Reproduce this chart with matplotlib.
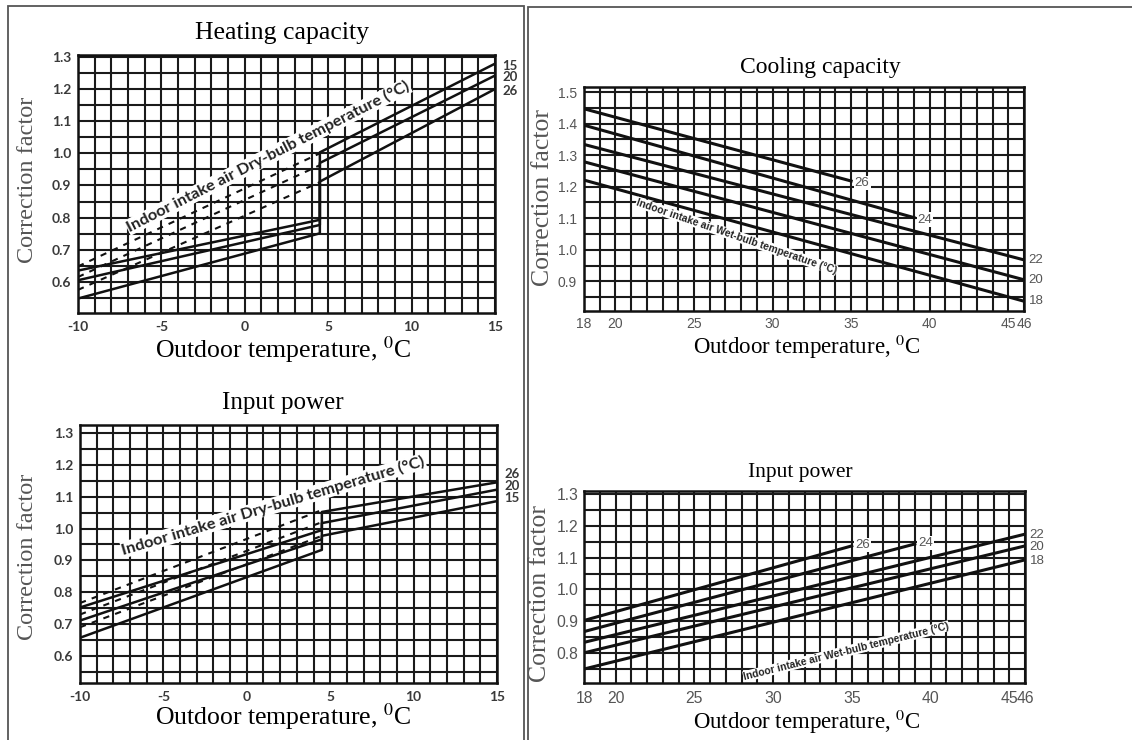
import numpy as np
import matplotlib.pyplot as plt
from matplotlib.patches import Rectangle

plt.rcParams['mathtext.fontset'] = 'stix'
plt.rcParams['axes.unicode_minus'] = False

## Heating capacity (indoor dry-bulb 15 / 20 / 26 C)
heat_names = ['15', '20', '26']
heat_x_solid = [-10, 4.5, 4.5, 15]
heat_solid = {'15': [0.635, 0.793, 1.003, 1.279],
              '20': [0.605, 0.777, 0.970, 1.242],
              '26': [0.548, 0.751, 0.912, 1.200]}
heat_x_dash = [-10, 4.5]
heat_dash = {'15': [0.648, 1.000],
             '20': [0.615, 0.963],
             '26': [0.575, 0.910]}
heat_xticks = [-10, -5, 0, 5, 10, 15]
heat_yticks = [0.6, 0.7, 0.8, 0.9, 1.0, 1.1, 1.2, 1.3]

## Input power, heating
hp_names = ['26', '20', '15']
hp_x_solid = [-10, 4.5, 4.5, 15]
hp_solid = {'26': [0.752, 0.995, 1.052, 1.145],
            '20': [0.711, 0.966, 1.017, 1.122],
            '15': [0.657, 0.933, 0.977, 1.086]}
hp_x_dash = [-10, 4.5]
hp_dash = {'26': [0.766, 1.058],
           '20': [0.730, 1.020],
           '15': [0.690, 0.977]}

## Cooling capacity (indoor wet-bulb)
cool_names = ['26', '24', '22', '20', '18']
cool_x0 = [18, 18, 18, 18, 18]
cool_x1 = [35, 39, 46, 46, 46]
cool_y0 = [1.447, 1.395, 1.334, 1.279, 1.221]
cool_y1 = [1.218, 1.102, 0.968, 0.905, 0.837]
cool_xticks = [18, 20, 25, 30, 35, 40, 45, 46]
cool_yticks = [0.9, 1.0, 1.1, 1.2, 1.3, 1.4, 1.5]

## Input power, cooling
cp_names = ['26', '24', '22', '20', '18']
cp_x0 = [18, 18, 18, 18, 18]
cp_x1 = [35, 39, 46, 46, 46]
cp_y0 = [0.902, 0.867, 0.833, 0.800, 0.749]
cp_y1 = [1.137, 1.143, 1.174, 1.137, 1.093]
cp_yticks = [0.8, 0.9, 1.0, 1.1, 1.2, 1.3]

W, H = 1132, 740
fig = plt.figure(figsize=(W / 100, H / 100), dpi=100)


def fx(px):
    return px / W


def fy(py):
    return 1 - py / H


def add_ax(left, top, right, bottom):
    return fig.add_axes([fx(left), fy(bottom), (right - left) / W, (bottom - top) / H])


def setup(ax, xlim, ylim, xt, yt, tick_kw, xpad, ypad):
    ax.set_xlim(xlim)
    ax.set_ylim(ylim)
    ax.set_xticks(xt)
    ax.set_yticks(yt)
    ax.set_yticklabels(['%.1f' % v for v in yt])
    ax.set_xticks(np.arange(xlim[0], xlim[1] + 0.5, 1), minor=True)
    ax.set_yticks(np.arange(np.ceil(ylim[0] / 0.05) * 0.05, ylim[1], 0.05), minor=True)
    ax.grid(which='both', color='#1a1a1a', lw=1.5)
    ax.set_axisbelow(True)
    ax.tick_params(which='both', length=0)
    ax.tick_params(axis='x', pad=xpad)
    ax.tick_params(axis='y', pad=ypad)
    for lab in ax.get_xticklabels() + ax.get_yticklabels():
        lab.set(**tick_kw)
    for s in ax.spines.values():
        s.set_linewidth(1.8)
        s.set_color('#111')


serif = 'Liberation Serif'
left_tick = dict(family='Lato', weight='bold', size=10, color='#3a3a3a')
cool_tick = dict(family='Liberation Sans', size=10, color='#555555')
pow_tick = dict(family='Liberation Sans', size=11.3, color='#555555')
xlab = 'Outdoor temperature, $^{0}$C'

## borders of the two panels
fig.add_artist(Rectangle((fx(8), fy(760)), 516 / W, 754 / H, transform=fig.transFigure,
                         fill=False, ec='#555555', lw=1.3))
fig.add_artist(Rectangle((fx(528), fy(760)), 640 / W, 753 / H, transform=fig.transFigure,
                         fill=False, ec='#555555', lw=1.3))

## Heating capacity
ax1 = add_ax(78, 55, 495, 313)
setup(ax1, (-10, 15), (0.503, 1.306), heat_xticks, heat_yticks, left_tick, 6, 5)
for n in heat_names:
    ax1.plot(heat_x_solid, heat_solid[n], color='#111', lw=1.8)
    ax1.plot(heat_x_dash, heat_dash[n], color='#111', lw=1.5, dashes=(3, 3))
    ax1.text(15.45, heat_solid[n][-1] - 0.006, n, ha='left', va='center', clip_on=False,
             family='Lato', weight='bold', size=9.5, color='#3a3a3a')
ax1.text(1.4, 0.99, 'Indoor intake air Dry-bulb temperature (°C)', rotation=27,
         rotation_mode='anchor', ha='center', va='center', family='Lato', weight='bold',
         size=11.8, color='#222', bbox=dict(fc='white', ec='none', pad=0.5), zorder=3)
fig.text(fx(282), fy(33), 'Heating capacity', ha='center', va='center', family=serif, size=18.5)
fig.text(fx(283), fy(350), xlab, ha='center', va='center', family=serif, size=18.5)
fig.text(fx(28), fy(180), 'Correction factor', rotation=90, ha='center', va='center',
         family=serif, size=17.5, color='#555555')

## Input power (heating)
ax2 = add_ax(80, 425, 497, 683)
setup(ax2, (-10, 15), (0.515, 1.325), heat_xticks, heat_yticks, left_tick, 6, 5)
hp_nudge = {'26': 0.026, '20': 0.011, '15': 0.010}
for n in hp_names:
    ax2.plot(hp_x_solid, hp_solid[n], color='#111', lw=1.8)
    ax2.plot(hp_x_dash, hp_dash[n], color='#111', lw=1.5, dashes=(3, 3))
    ax2.text(15.45, hp_solid[n][-1] + hp_nudge[n], n, ha='left', va='center', clip_on=False,
             family='Lato', weight='bold', size=9.5, color='#3a3a3a')
ax2.text(1.6, 1.072, 'Indoor intake air Dry-bulb temperature (°C)', rotation=16.5,
         rotation_mode='anchor', ha='center', va='center', family='Lato', weight='bold',
         size=11.8, color='#222', bbox=dict(fc='white', ec='none', pad=0.5), zorder=3)
fig.text(fx(283), fy(403), 'Input power', ha='center', va='center', family=serif, size=18)
fig.text(fx(283), fy(717), xlab, ha='center', va='center', family=serif, size=18.5)
fig.text(fx(28), fy(557), 'Correction factor', rotation=90, ha='center', va='center',
         family=serif, size=17.5, color='#555555')

## Cooling capacity
ax3 = add_ax(584, 87, 1024, 311)
setup(ax3, (18, 46), (0.806, 1.516), cool_xticks, cool_yticks, cool_tick, 4, 5)
for i, n in enumerate(cool_names):
    ax3.plot([cool_x0[i], cool_x1[i]], [cool_y0[i], cool_y1[i]], color='#111', lw=2.2)
    if cool_x1[i] < 46:
        ax3.text(cool_x1[i] + 0.7, cool_y1[i] - 0.006, n, ha='center', va='center',
                 family='Liberation Sans', size=9.5, color='#555555', zorder=3,
                 bbox=dict(fc='white', ec='none', pad=0.8))
    else:
        ax3.text(46.3, cool_y1[i], n, ha='left', va='center', clip_on=False,
                 family='Liberation Sans', size=9.5, color='#555555')
ax3.text(27.7, 1.043, 'Indoor intake air Wet-bulb temperature (°C)', rotation=-19,
         rotation_mode='anchor', ha='center', va='center', family='Liberation Sans',
         weight='bold', size=7.4, color='#222', bbox=dict(fc='white', ec='none', pad=0.3),
         zorder=3)
fig.text(fx(820), fy(67), 'Cooling capacity', ha='center', va='center', family=serif, size=17)
fig.text(fx(807), fy(347), xlab, ha='center', va='center', family=serif, size=16.5)
fig.text(fx(543), fy(197), 'Correction factor', rotation=90, ha='center', va='center',
         family=serif, size=18.5, color='#555555')

## Input power (cooling)
ax4 = add_ax(584, 491, 1025, 683)
setup(ax4, (18, 46), (0.705, 1.31), cool_xticks, cp_yticks, pow_tick, 6, 4)
for i, n in enumerate(cp_names):
    ax4.plot([cp_x0[i], cp_x1[i]], [cp_y0[i], cp_y1[i]], color='#111', lw=2.2)
    if cp_x1[i] < 46:
        ax4.text(cp_x1[i] + 0.7, cp_y1[i] + 0.003, n, ha='center', va='center',
                 family='Liberation Sans', size=9.5, color='#555555', zorder=3,
                 bbox=dict(fc='white', ec='none', pad=0.8))
    else:
        ax4.text(46.3, cp_y1[i] - 0.004, n, ha='left', va='center', clip_on=False,
                 family='Liberation Sans', size=9.5, color='#555555')
ax4.text(34.65, 0.805, 'Indoor intake air Wet-bulb temperature (°C)', rotation=14,
         rotation_mode='anchor', ha='center', va='center', family='Liberation Sans',
         weight='bold', size=7.4, color='#222', bbox=dict(fc='white', ec='none', pad=0.3),
         zorder=3)
fig.text(fx(800), fy(473), 'Input power', ha='center', va='center', family=serif, size=15.5)
fig.text(fx(807), fy(722), xlab, ha='center', va='center', family=serif, size=16.5)
fig.text(fx(540), fy(593), 'Correction factor', rotation=90, ha='center', va='center',
         family=serif, size=18.5, color='#555555')

fig.savefig('out.png', dpi=100)
